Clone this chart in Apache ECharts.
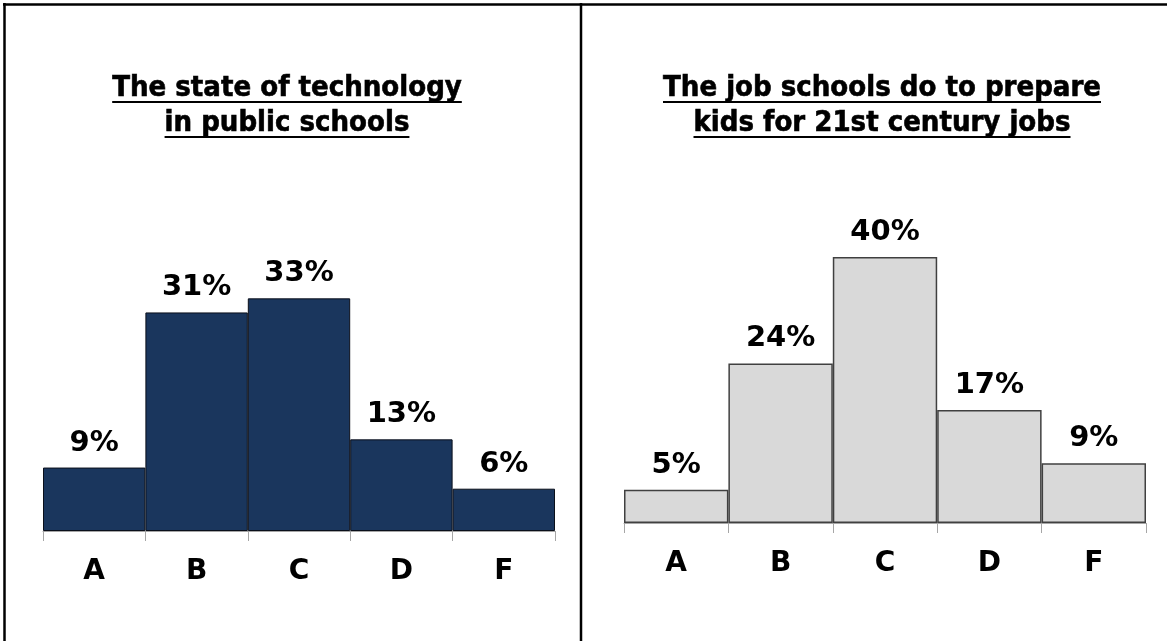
<!DOCTYPE html>
<html>
<head>
<meta charset="utf-8">
<script src="https://cdn.jsdelivr.net/npm/echarts@6/dist/echarts.min.js"></script>
<style>
html,body{margin:0;padding:0;background:#fff;}
#chart{width:1167px;height:641px;}
</style>
</head>
<body>
<div id="chart"></div>
<script>
const categories = ['A', 'B', 'C', 'D', 'F'];
const techValues = [9, 31, 33, 13, 6];
const jobValues = [5, 24, 40, 17, 9];
const leftTitleLines = ['The state of technology', 'in public schools'];
const rightTitleLines = ['The job schools do to prepare', 'kids for 21st century jobs'];

const TITLE_FAMILY = '"DejaVu Sans Condensed", "DejaVu Sans", sans-serif';
const LABEL_FAMILY = '"DejaVu Sans", sans-serif';
const TITLE_SIZE = 29;
const LABEL_SIZE = 29;

const measureCtx = document.createElement('canvas').getContext('2d');
function textWidth(t, size) {
  measureCtx.font = 'bold ' + size + 'px ' + TITLE_FAMILY;
  return measureCtx.measureText(t).width;
}

function titleGraphics(lines, cx, y0, dy) {
  const els = [];
  lines.forEach((t, i) => {
    const y = y0 + i * dy;
    els.push({
      type: 'text',
      style: {
        text: t, x: cx, y: y, align: 'center', verticalAlign: 'middle',
        font: 'bold ' + TITLE_SIZE + 'px ' + TITLE_FAMILY, fill: '#000',
        stroke: '#000', lineWidth: 0.6
      }
    });
    const w = textWidth(t, TITLE_SIZE);
    els.push({
      type: 'rect',
      shape: { x: cx - w / 2, y: y + 13, width: w, height: 2 },
      style: { fill: '#000' }
    });
  });
  return els;
}

const chart = echarts.init(document.getElementById('chart'), null, { renderer: 'canvas' });

const axisCommon = {
  type: 'category',
  data: categories,
  boundaryGap: true,
  axisLine: { show: true, lineStyle: { color: '#a6a6a6', width: 1 } },
  axisTick: { show: true, alignWithLabel: false, length: 10, lineStyle: { color: '#a6a6a6', width: 1 } },
  axisLabel: { color: '#000', fontWeight: 'bold', fontSize: 28, fontFamily: LABEL_FAMILY, margin: 27 }
};

const labelCommon = {
  show: true, position: 'top', distance: 10, formatter: '{c}%',
  color: '#000', fontWeight: 'bold', fontSize: LABEL_SIZE, fontFamily: LABEL_FAMILY
};

chart.setOption({
  animation: false,
  backgroundColor: '#fff',
  grid: [
    { left: 43, width: 512, top: 249, bottom: 110 },
    { left: 624, width: 522, top: 257, bottom: 118 }
  ],
  xAxis: [
    Object.assign({ gridIndex: 0 }, axisCommon),
    Object.assign({ gridIndex: 1 }, axisCommon)
  ],
  yAxis: [
    { type: 'value', gridIndex: 0, min: 0, max: 40, show: false, splitLine: { show: false } },
    { type: 'value', gridIndex: 1, min: 0, max: 40, show: false, splitLine: { show: false } }
  ],
  series: [
    {
      type: 'bar', xAxisIndex: 0, yAxisIndex: 0, data: techValues,
      barWidth: '100%', barCategoryGap: 0,
      itemStyle: { color: '#1a365d', borderColor: '#0a0f1a', borderWidth: 1 },
      label: labelCommon
    },
    {
      type: 'bar', xAxisIndex: 1, yAxisIndex: 1, data: jobValues,
      barWidth: '100%', barCategoryGap: 0,
      itemStyle: { color: '#d9d9d9', borderColor: '#404040', borderWidth: 1.5 },
      label: labelCommon
    }
  ],
  graphic: [
    { type: 'line', shape: { x1: 3, y1: 4.5, x2: 1167, y2: 4.5 }, style: { stroke: '#000', lineWidth: 2.5 } },
    { type: 'line', shape: { x1: 4.5, y1: 3, x2: 4.5, y2: 641 }, style: { stroke: '#000', lineWidth: 2.5 } },
    { type: 'line', shape: { x1: 581, y1: 3, x2: 581, y2: 641 }, style: { stroke: '#000', lineWidth: 2.5 } }
  ].concat(titleGraphics(leftTitleLines, 287, 88, 35))
   .concat(titleGraphics(rightTitleLines, 882, 88, 35))
});
</script>
</body>
</html>
